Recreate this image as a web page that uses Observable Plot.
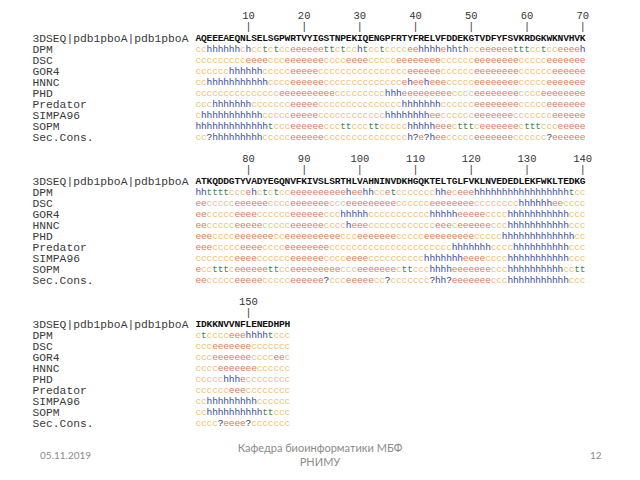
<!DOCTYPE html>
<html>
<head>
<meta charset="utf-8">
<script src="https://cdn.jsdelivr.net/npm/d3@7"></script>
<script src="https://cdn.jsdelivr.net/npm/@observablehq/plot@0.6"></script>
<style>
  html, body { margin: 0; padding: 0; background: #fff; }
  body { width: 640px; height: 480px; overflow: hidden; }
  #chart svg { display: block; }
  #footer { position: relative; width: 640px; height: 40px; font-family: Lato, "Noto Sans", "Liberation Sans", sans-serif; color: #8c8c8c; }
  #footer div { position: absolute; white-space: nowrap; }
</style>
</head>
<body>
<div id="chart"></div>
<div id="footer">
  <div style="left:40px; top:9px; font-size:10px;">05.11.2019</div>
  <div style="left:0; width:640px; top:1px; text-align:center; font-size:11px; line-height:14px;">Кафедра биоинформатики МБФ<br>РНИМУ</div>
  <div style="left:590px; top:9px; font-size:10px;">12</div>
</div>
<script>
// ---------- data ----------
const queryLabel = "3DSEQ|pdb1pboA|pdb1pboA";
const methods = ["DPM", "DSC", "GOR4", "HNNC", "PHD", "Predator", "SIMPA96", "SOPM", "Sec.Cons."];
const tickLabels = [10, 20, 30, 40, 50, 60, 70, 80, 90, 100, 110, 120, 130, 140, 150];
const blockWidth = 70;

const sequenceBlocks = [
  "AQEEEAEQNL SELSGPWRTV YIGSTNPEKI QENGPFRTYF RELVFDDEKG TVDFYFSVKR DGKWKNVHVK",
  "ATKQDDGTYV ADYEGQNVFK IVSLSRTHLV AHNINVDKHG QKTELTGLFV KLNVEDEDLE KFWKLTEDKG",
  "IDKKNVVNFL ENEDHPH"
];

const predDPM = [
  "cchhhhhhch cctctcceee eeettctcch tcctc ccceehhhhe hhthcceeee eetttcctcc eeeeh",
  "hhttttccce hctctcceee eeeeeeehee hhcce tccccccchh eceeehhhhh hhhhhhhhhh hhtcc",
  "ctcccceeeh hhhtccc"
];
const predDSC = [
  "ccccccccce eeeccceeee eeecccceee ecccc ceeeeeeeec ccccceeeee eeecccccee eeeee",
  "eeccccceee eeecccceee eeeeccceee eeeee ecccccceee eeeeeccccc ccchhhhhhe ecccc",
  "ccceeeeeee ccccccc"
];
const predGOR4 = [
  "cccccchhhh hhccccceee eecccccccc ccccc ccceeeeeec ccccceeeee eeecccccce eeeee",
  "eeccccceee ecccccceee eeeccchhhh hcccc ccccccchhh hheeeeeccc chhhhhhhhh hhccc",
  "ccceeeeeee cccceec"
];
const predHNNC = [
  "cchhhhhhhh hhhcccceee eeeccccccc ccccc cceheeheee ccccceeeee eeecccccee eeeee",
  "eeccccceee eeccccceee eeecccchee ecccc ccccccccee eceeeeeecc chhhhhhhhh hhccc",
  "cccceeeeee ecccccc"
];
const predPHD = [
  "cccccccccc ccccceeeee eeeeeccccc cccch hheeeeeeee ecccceeeee eeecccceee eeeee",
  "eeecccceee eeeecceeee eeeeeeccce eeeee eccccceeee eeeeeccccc hhhhhhhhhh hhhcc",
  "ccccchhhec ccccccc"
];
const predPredator = [
  "ccchhhhhhh ccccccceee eecccccccc ccccc cchhhhhhhc ccccceeeee eeecccccee eeeee",
  "eeecccccee eecccceeee eeeecccccc ccccc cccccccccc chhhhhhhcc cchhhhhhhh hhccc",
  "cccccceeec ccccccc"
];
const predSIMPA96 = [
  "chhhhhhhhh hhccccceee eecccccccc cccch hhhhhhheec ccccceeeee eeccccccce eeeee",
  "ccccccceee ecccccceee eeecccceee ecccc cccccchhhh hhheeeeccc chhhhhhhhh hhccc",
  "cchhhhhhhh hcccccc"
];
const predSOPM = [
  "hhhhhhhhhh hhhtccceee eeecccttcc cttcc ccchhhhhee ectttceeee eeectttccc eeeee",
  "ecctttceee eeettcceee eeeeeeccce eeeee ecttccchhh heeeeeeecc chhhhhhhhh hcctt",
  "cchhhhhhhh hhttccc"
];
const predSecCons = [
  "cc?hhhhhhh hhccccceee eeeccccccc ccccc ccch?e?hee ccccceeeee eecccccc?e eeeee",
  "eeccccceee eeccccceee eee?ccceee eecc? ccccccc?hh ?eeeeeeecc chhhhhhhhh hhccc",
  "cccc?eeee? ccccccc"
];

const stateOrder = ["c", "e", "h", "t", "?"];
const stateColors = ["#f1c072", "#e07658", "#3b4ea2", "#3f8a55", "#3c3c58"];

// ---------- build mark data ----------
const predictions = [predDPM, predDSC, predGOR4, predHNNC, predPHD, predPredator, predSIMPA96, predSOPM, predSecCons];
const linesPerBlock = 13;
const clean = s => s.replace(/ /g, "");

const predData = [];
predictions.forEach((blocks, r) => {
  blocks.forEach((s, b) => {
    [...clean(s)].forEach((ch, k) => predData.push({col: k + 1, line: b * linesPerBlock + 3 + r, ch}));
  });
});

const seqData = [];
sequenceBlocks.forEach((s, b) => {
  [...clean(s)].forEach((ch, k) => seqData.push({col: k + 1, line: b * linesPerBlock + 2, ch}));
});

const tickData = tickLabels.map(t => ({
  value: t,
  col: (t - 1) % blockWidth + 1,
  line: Math.floor((t - 1) / blockWidth) * linesPerBlock
}));

const labelData = [];
sequenceBlocks.forEach((s, b) => {
  labelData.push({line: b * linesPerBlock + 2, label: queryLabel});
  methods.forEach((m, r) => labelData.push({line: b * linesPerBlock + 3 + r, label: m}));
});

const mono = "'Liberation Mono', 'DejaVu Sans Mono', monospace";

const chart = Plot.plot({
  width: 640,
  height: 440,
  margin: 0,
  x: {domain: [0.5, 70.5], range: [195, 585], axis: null},
  y: {domain: [0, 37], range: [15.6, 422.6], axis: null},
  color: {type: "ordinal", domain: stateOrder, range: stateColors},
  style: {background: "#fff", overflow: "visible"},
  marks: [
    Plot.text(tickData, {x: "col", y: "line", text: d => String(d.value), fontSize: 10.5, fontFamily: mono, fill: "#333"}),
    Plot.text(tickData, {x: "col", y: d => d.line + 1, text: () => "|", fontSize: 10, fontFamily: mono, fill: "#333"}),
    Plot.text(labelData, {frameAnchor: "left", dx: 32, y: "line", text: "label", textAnchor: "start", fontSize: 11.3, fontFamily: mono, fill: "#3a3a3a"}),
    Plot.text(seqData, {x: "col", y: "line", text: "ch", fontSize: 9.6, fontWeight: "bold", fontFamily: mono, fill: "#111"}),
    Plot.text(predData, {x: "col", y: "line", text: "ch", fill: "ch", fontSize: 9.6, fontFamily: mono})
  ]
});
document.getElementById("chart").appendChild(chart);
</script>
</body>
</html>
